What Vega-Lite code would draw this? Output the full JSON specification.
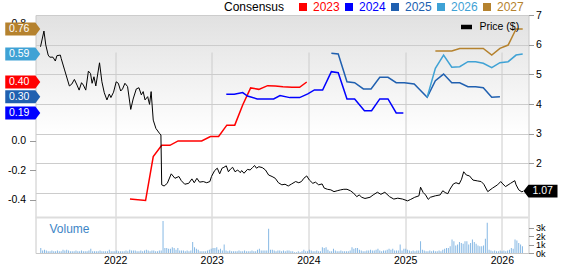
{
  "$schema": "https://vega.github.io/schema/vega-lite/v6.json",
  "autosize": {"type": "none"},
  "padding": {"left": 35.5, "top": 15, "right": 33.5, "bottom": 11},
  "width": 493,
  "height": 238,
  "background": "white",
  "config": {
    "font": "Liberation Sans",
    "axis": {"labelFont": "Liberation Sans", "labelFontSize": 10.5, "labelColor": "#000", "tickColor": "#999", "domain": false, "gridColor": "#cccccc", "labelFlush": false, "labelOverlap": false},
    "legend": {"labelFont": "Liberation Sans", "titleFont": "Liberation Sans"}
  },
  "view": {
    "fill": {"gradient": "linear", "x1": 0, "y1": 0, "x2": 0, "y2": 1, "stops": [{"offset": 0, "color": "#e1e1e1"}, {"offset": 0.5, "color": "#ffffff"}, {"offset": 1, "color": "#ffffff"}]},
    "stroke": "#c8c8c8"
  },
  "datasets": {
    "eps": [
      {"year": "2023", "d": "2022-02-26", "v": -0.395},
      {"year": "2023", "d": "2022-04-26", "v": -0.405},
      {"year": "2023", "d": "2022-05-25", "v": -0.106},
      {"year": "2023", "d": "2022-06-26", "v": -0.03},
      {"year": "2023", "d": "2022-07-27", "v": -0.03},
      {"year": "2023", "d": "2022-08-27", "v": 0.0},
      {"year": "2023", "d": "2022-11-24", "v": 0.0},
      {"year": "2023", "d": "2022-12-27", "v": 0.03},
      {"year": "2023", "d": "2023-01-27", "v": 0.03},
      {"year": "2023", "d": "2023-02-27", "v": 0.107},
      {"year": "2023", "d": "2023-03-29", "v": 0.107},
      {"year": "2023", "d": "2023-04-28", "v": 0.244},
      {"year": "2023", "d": "2023-05-28", "v": 0.36},
      {"year": "2023", "d": "2023-06-28", "v": 0.35},
      {"year": "2023", "d": "2023-07-31", "v": 0.375},
      {"year": "2023", "d": "2023-08-29", "v": 0.373},
      {"year": "2023", "d": "2023-09-27", "v": 0.368},
      {"year": "2023", "d": "2023-10-31", "v": 0.364},
      {"year": "2023", "d": "2023-11-29", "v": 0.364},
      {"year": "2023", "d": "2023-12-26", "v": 0.40},
      {"year": "2024", "d": "2023-02-25", "v": 0.317},
      {"year": "2024", "d": "2023-03-27", "v": 0.317},
      {"year": "2024", "d": "2023-04-28", "v": 0.328},
      {"year": "2024", "d": "2023-05-16", "v": 0.305},
      {"year": "2024", "d": "2023-06-22", "v": 0.285},
      {"year": "2024", "d": "2023-08-23", "v": 0.285},
      {"year": "2024", "d": "2023-09-16", "v": 0.308},
      {"year": "2024", "d": "2023-10-23", "v": 0.294},
      {"year": "2024", "d": "2023-11-29", "v": 0.294},
      {"year": "2024", "d": "2023-12-30", "v": 0.319},
      {"year": "2024", "d": "2024-01-24", "v": 0.346},
      {"year": "2024", "d": "2024-02-24", "v": 0.346},
      {"year": "2024", "d": "2024-03-28", "v": 0.47},
      {"year": "2024", "d": "2024-04-23", "v": 0.463},
      {"year": "2024", "d": "2024-05-26", "v": 0.285},
      {"year": "2024", "d": "2024-06-24", "v": 0.285},
      {"year": "2024", "d": "2024-07-31", "v": 0.205},
      {"year": "2024", "d": "2024-08-27", "v": 0.205},
      {"year": "2024", "d": "2024-09-27", "v": 0.285},
      {"year": "2024", "d": "2024-10-28", "v": 0.285},
      {"year": "2024", "d": "2024-11-28", "v": 0.19},
      {"year": "2024", "d": "2024-12-25", "v": 0.19},
      {"year": "2025", "d": "2024-03-28", "v": 0.595},
      {"year": "2025", "d": "2024-04-23", "v": 0.59},
      {"year": "2025", "d": "2024-05-26", "v": 0.402},
      {"year": "2025", "d": "2024-06-24", "v": 0.395},
      {"year": "2025", "d": "2024-07-27", "v": 0.353},
      {"year": "2025", "d": "2024-08-25", "v": 0.353},
      {"year": "2025", "d": "2024-09-27", "v": 0.432},
      {"year": "2025", "d": "2024-10-28", "v": 0.432},
      {"year": "2025", "d": "2024-11-28", "v": 0.395},
      {"year": "2025", "d": "2024-12-29", "v": 0.395},
      {"year": "2025", "d": "2025-02-04", "v": 0.386},
      {"year": "2025", "d": "2025-03-25", "v": 0.296},
      {"year": "2025", "d": "2025-04-25", "v": 0.409},
      {"year": "2025", "d": "2025-05-26", "v": 0.454},
      {"year": "2025", "d": "2025-06-26", "v": 0.395},
      {"year": "2025", "d": "2025-07-26", "v": 0.395},
      {"year": "2025", "d": "2025-08-26", "v": 0.368},
      {"year": "2025", "d": "2025-09-24", "v": 0.368},
      {"year": "2025", "d": "2025-10-23", "v": 0.361},
      {"year": "2025", "d": "2025-11-24", "v": 0.296},
      {"year": "2025", "d": "2025-12-25", "v": 0.30},
      {"year": "2026", "d": "2025-03-25", "v": 0.296},
      {"year": "2026", "d": "2025-04-25", "v": 0.493},
      {"year": "2026", "d": "2025-05-26", "v": 0.583},
      {"year": "2026", "d": "2025-06-26", "v": 0.50},
      {"year": "2026", "d": "2025-07-26", "v": 0.504},
      {"year": "2026", "d": "2025-08-26", "v": 0.538},
      {"year": "2026", "d": "2025-09-24", "v": 0.538},
      {"year": "2026", "d": "2025-10-23", "v": 0.527},
      {"year": "2026", "d": "2025-11-24", "v": 0.497},
      {"year": "2026", "d": "2025-12-25", "v": 0.531},
      {"year": "2026", "d": "2026-01-25", "v": 0.538},
      {"year": "2026", "d": "2026-02-24", "v": 0.583},
      {"year": "2026", "d": "2026-03-21", "v": 0.59},
      {"year": "2027", "d": "2025-04-25", "v": 0.61},
      {"year": "2027", "d": "2025-06-26", "v": 0.61},
      {"year": "2027", "d": "2025-07-26", "v": 0.628},
      {"year": "2027", "d": "2025-10-23", "v": 0.628},
      {"year": "2027", "d": "2025-11-24", "v": 0.583},
      {"year": "2027", "d": "2025-12-25", "v": 0.628},
      {"year": "2027", "d": "2026-01-25", "v": 0.651},
      {"year": "2027", "d": "2026-02-24", "v": 0.76},
      {"year": "2027", "d": "2026-03-21", "v": 0.76}
    ],
    "tags": [
      {"year": "2027", "v": 0.76, "label": "0.76"},
      {"year": "2026", "v": 0.59, "label": "0.59"},
      {"year": "2023", "v": 0.40, "label": "0.40"},
      {"year": "2025", "v": 0.30, "label": "0.30"},
      {"year": "2024", "v": 0.19, "label": "0.19"}
    ],
    "price": [
      {"d": "2021-03-25", "p": 5.93}, {"d": "2021-04-07", "p": 6.46}, {"d": "2021-04-14", "p": 5.99}, {"d": "2021-04-23", "p": 5.65},
      {"d": "2021-04-29", "p": 5.58}, {"d": "2021-05-11", "p": 5.58}, {"d": "2021-05-20", "p": 5.45}, {"d": "2021-05-26", "p": 5.63},
      {"d": "2021-06-08", "p": 5.65}, {"d": "2021-06-11", "p": 5.54}, {"d": "2021-06-24", "p": 5.15}, {"d": "2021-07-12", "p": 4.61},
      {"d": "2021-07-21", "p": 4.67}, {"d": "2021-07-31", "p": 4.83}, {"d": "2021-08-10", "p": 4.64}, {"d": "2021-08-18", "p": 4.47},
      {"d": "2021-08-27", "p": 4.72}, {"d": "2021-09-03", "p": 4.64}, {"d": "2021-09-12", "p": 4.47}, {"d": "2021-09-22", "p": 5.11},
      {"d": "2021-09-30", "p": 5.03}, {"d": "2021-10-06", "p": 4.70}, {"d": "2021-10-13", "p": 4.92}, {"d": "2021-10-20", "p": 4.61},
      {"d": "2021-11-03", "p": 5.39}, {"d": "2021-11-12", "p": 4.75}, {"d": "2021-11-21", "p": 4.38}, {"d": "2021-12-01", "p": 4.14},
      {"d": "2021-12-10", "p": 4.34}, {"d": "2021-12-16", "p": 4.22}, {"d": "2021-12-26", "p": 4.40}, {"d": "2022-01-05", "p": 4.75},
      {"d": "2022-01-13", "p": 4.70}, {"d": "2022-01-22", "p": 4.44}, {"d": "2022-01-29", "p": 4.51}, {"d": "2022-02-07", "p": 4.70},
      {"d": "2022-02-17", "p": 4.59}, {"d": "2022-03-01", "p": 3.82}, {"d": "2022-03-10", "p": 4.17}, {"d": "2022-03-22", "p": 4.51},
      {"d": "2022-04-01", "p": 4.55}, {"d": "2022-04-10", "p": 4.31}, {"d": "2022-04-17", "p": 4.42}, {"d": "2022-04-24", "p": 4.14},
      {"d": "2022-05-04", "p": 4.25}, {"d": "2022-05-11", "p": 3.99}, {"d": "2022-05-17", "p": 4.42}, {"d": "2022-05-25", "p": 3.46},
      {"d": "2022-06-04", "p": 3.18}, {"d": "2022-06-17", "p": 3.02}, {"d": "2022-06-23", "p": 2.96}, {"d": "2022-06-26", "p": 1.28},
      {"d": "2022-07-05", "p": 1.24}, {"d": "2022-07-17", "p": 1.33}, {"d": "2022-08-01", "p": 1.65}, {"d": "2022-08-15", "p": 1.50},
      {"d": "2022-08-30", "p": 1.56}, {"d": "2022-09-08", "p": 1.42}, {"d": "2022-09-21", "p": 1.30}, {"d": "2022-10-06", "p": 1.33},
      {"d": "2022-10-18", "p": 1.48}, {"d": "2022-10-27", "p": 1.35}, {"d": "2022-11-06", "p": 1.50}, {"d": "2022-11-16", "p": 1.37},
      {"d": "2022-11-30", "p": 1.39}, {"d": "2022-12-13", "p": 1.35}, {"d": "2022-12-25", "p": 1.39}, {"d": "2022-12-31", "p": 1.56},
      {"d": "2023-01-12", "p": 1.76}, {"d": "2023-01-22", "p": 1.84}, {"d": "2023-01-31", "p": 1.65}, {"d": "2023-02-09", "p": 1.84},
      {"d": "2023-02-16", "p": 1.87}, {"d": "2023-02-25", "p": 1.92}, {"d": "2023-03-05", "p": 1.72}, {"d": "2023-03-13", "p": 1.81},
      {"d": "2023-03-21", "p": 1.87}, {"d": "2023-03-30", "p": 1.72}, {"d": "2023-04-09", "p": 1.78}, {"d": "2023-04-19", "p": 1.69},
      {"d": "2023-04-24", "p": 1.76}, {"d": "2023-05-03", "p": 1.67}, {"d": "2023-05-16", "p": 1.80}, {"d": "2023-05-26", "p": 1.78},
      {"d": "2023-06-04", "p": 1.86}, {"d": "2023-06-12", "p": 1.93}, {"d": "2023-06-19", "p": 1.84}, {"d": "2023-06-28", "p": 1.89},
      {"d": "2023-07-11", "p": 1.86}, {"d": "2023-07-23", "p": 1.78}, {"d": "2023-08-04", "p": 1.61}, {"d": "2023-08-17", "p": 1.56},
      {"d": "2023-08-29", "p": 1.50}, {"d": "2023-09-10", "p": 1.35}, {"d": "2023-09-23", "p": 1.28}, {"d": "2023-10-05", "p": 1.30},
      {"d": "2023-10-17", "p": 1.24}, {"d": "2023-10-30", "p": 1.31}, {"d": "2023-11-14", "p": 1.39}, {"d": "2023-11-26", "p": 1.35},
      {"d": "2023-12-06", "p": 1.39}, {"d": "2023-12-15", "p": 1.50}, {"d": "2023-12-26", "p": 1.58}, {"d": "2024-01-05", "p": 1.44},
      {"d": "2024-01-18", "p": 1.33}, {"d": "2024-01-28", "p": 1.37}, {"d": "2024-02-09", "p": 1.28}, {"d": "2024-02-22", "p": 1.31},
      {"d": "2024-03-01", "p": 1.17}, {"d": "2024-03-13", "p": 1.13}, {"d": "2024-03-26", "p": 1.11}, {"d": "2024-04-07", "p": 1.05},
      {"d": "2024-04-19", "p": 1.08}, {"d": "2024-05-02", "p": 1.11}, {"d": "2024-05-14", "p": 1.13}, {"d": "2024-05-26", "p": 1.13},
      {"d": "2024-06-08", "p": 1.08}, {"d": "2024-06-20", "p": 1.00}, {"d": "2024-07-02", "p": 0.88}, {"d": "2024-07-11", "p": 0.94},
      {"d": "2024-07-21", "p": 0.86}, {"d": "2024-08-02", "p": 0.82}, {"d": "2024-08-21", "p": 0.86}, {"d": "2024-09-02", "p": 0.94},
      {"d": "2024-09-18", "p": 1.03}, {"d": "2024-10-01", "p": 0.96}, {"d": "2024-10-16", "p": 1.03}, {"d": "2024-11-03", "p": 0.88},
      {"d": "2024-11-19", "p": 0.80}, {"d": "2024-12-04", "p": 0.83}, {"d": "2024-12-22", "p": 0.80}, {"d": "2025-01-10", "p": 0.74},
      {"d": "2025-01-22", "p": 0.79}, {"d": "2025-02-06", "p": 0.86}, {"d": "2025-02-22", "p": 0.91}, {"d": "2025-02-28", "p": 1.20},
      {"d": "2025-03-10", "p": 1.02}, {"d": "2025-03-19", "p": 0.94}, {"d": "2025-03-29", "p": 0.79}, {"d": "2025-04-06", "p": 0.86},
      {"d": "2025-04-25", "p": 0.91}, {"d": "2025-05-13", "p": 0.94}, {"d": "2025-05-23", "p": 1.08}, {"d": "2025-06-01", "p": 1.02},
      {"d": "2025-06-11", "p": 0.98}, {"d": "2025-06-19", "p": 1.13}, {"d": "2025-07-02", "p": 1.31}, {"d": "2025-07-12", "p": 1.35},
      {"d": "2025-07-24", "p": 1.31}, {"d": "2025-08-02", "p": 1.47}, {"d": "2025-08-10", "p": 1.72}, {"d": "2025-08-20", "p": 1.61},
      {"d": "2025-09-01", "p": 1.58}, {"d": "2025-09-14", "p": 1.44}, {"d": "2025-10-02", "p": 1.41}, {"d": "2025-10-15", "p": 1.39},
      {"d": "2025-10-25", "p": 1.30}, {"d": "2025-11-09", "p": 1.05}, {"d": "2025-11-27", "p": 1.17}, {"d": "2025-12-16", "p": 1.28},
      {"d": "2025-12-28", "p": 1.39}, {"d": "2026-01-05", "p": 1.31}, {"d": "2026-01-15", "p": 1.22}, {"d": "2026-02-03", "p": 1.33},
      {"d": "2026-02-19", "p": 1.42}, {"d": "2026-02-24", "p": 1.28}, {"d": "2026-03-06", "p": 1.11}, {"d": "2026-03-18", "p": 1.04},
      {"d": "2026-03-23", "p": 1.07}
    ],
    "vol": [
      {"d": "2021-03-26", "v": 600}, {"d": "2021-04-02", "v": 300}, {"d": "2021-04-09", "v": 400}, {"d": "2021-04-16", "v": 300},
      {"d": "2021-04-23", "v": 200}, {"d": "2021-04-30", "v": 200}, {"d": "2021-05-07", "v": 300}, {"d": "2021-05-14", "v": 200},
      {"d": "2021-05-21", "v": 200}, {"d": "2021-05-28", "v": 300}, {"d": "2021-06-04", "v": 200}, {"d": "2021-06-11", "v": 200},
      {"d": "2021-06-18", "v": 400}, {"d": "2021-06-25", "v": 300}, {"d": "2021-07-02", "v": 400}, {"d": "2021-07-09", "v": 300},
      {"d": "2021-07-16", "v": 200}, {"d": "2021-07-23", "v": 200}, {"d": "2021-07-30", "v": 200}, {"d": "2021-08-06", "v": 300},
      {"d": "2021-08-13", "v": 200}, {"d": "2021-08-20", "v": 200}, {"d": "2021-08-27", "v": 300}, {"d": "2021-09-03", "v": 200},
      {"d": "2021-09-10", "v": 200}, {"d": "2021-09-17", "v": 200}, {"d": "2021-09-24", "v": 300}, {"d": "2021-10-01", "v": 500},
      {"d": "2021-10-08", "v": 200}, {"d": "2021-10-15", "v": 200}, {"d": "2021-10-22", "v": 200}, {"d": "2021-10-29", "v": 200},
      {"d": "2021-11-05", "v": 300}, {"d": "2021-11-12", "v": 200}, {"d": "2021-11-19", "v": 200}, {"d": "2021-11-26", "v": 200},
      {"d": "2021-12-03", "v": 200}, {"d": "2021-12-10", "v": 400}, {"d": "2021-12-17", "v": 200}, {"d": "2021-12-24", "v": 200},
      {"d": "2021-12-31", "v": 200}, {"d": "2022-01-07", "v": 300}, {"d": "2022-01-14", "v": 200}, {"d": "2022-01-21", "v": 200},
      {"d": "2022-01-28", "v": 200}, {"d": "2022-02-04", "v": 200}, {"d": "2022-02-11", "v": 300}, {"d": "2022-02-18", "v": 200},
      {"d": "2022-02-25", "v": 400}, {"d": "2022-03-04", "v": 300}, {"d": "2022-03-11", "v": 300}, {"d": "2022-03-18", "v": 300},
      {"d": "2022-03-25", "v": 200}, {"d": "2022-04-01", "v": 200}, {"d": "2022-04-08", "v": 300}, {"d": "2022-04-15", "v": 200},
      {"d": "2022-04-22", "v": 300}, {"d": "2022-04-29", "v": 400}, {"d": "2022-05-06", "v": 300}, {"d": "2022-05-13", "v": 200},
      {"d": "2022-05-20", "v": 300}, {"d": "2022-05-27", "v": 300}, {"d": "2022-06-03", "v": 200}, {"d": "2022-06-10", "v": 200},
      {"d": "2022-06-17", "v": 300}, {"d": "2022-06-24", "v": 300}, {"d": "2022-07-01", "v": 3800}, {"d": "2022-07-08", "v": 600},
      {"d": "2022-07-15", "v": 600}, {"d": "2022-07-22", "v": 500}, {"d": "2022-07-29", "v": 500}, {"d": "2022-08-05", "v": 700},
      {"d": "2022-08-12", "v": 600}, {"d": "2022-08-19", "v": 400}, {"d": "2022-08-26", "v": 600}, {"d": "2022-09-02", "v": 300},
      {"d": "2022-09-09", "v": 300}, {"d": "2022-09-16", "v": 300}, {"d": "2022-09-23", "v": 200}, {"d": "2022-09-30", "v": 300},
      {"d": "2022-10-07", "v": 200}, {"d": "2022-10-14", "v": 300}, {"d": "2022-10-21", "v": 1300}, {"d": "2022-10-28", "v": 700},
      {"d": "2022-11-04", "v": 500}, {"d": "2022-11-11", "v": 400}, {"d": "2022-11-18", "v": 200}, {"d": "2022-11-25", "v": 200},
      {"d": "2022-12-02", "v": 200}, {"d": "2022-12-09", "v": 200}, {"d": "2022-12-16", "v": 300}, {"d": "2022-12-23", "v": 400},
      {"d": "2022-12-30", "v": 500}, {"d": "2023-01-06", "v": 600}, {"d": "2023-01-13", "v": 600}, {"d": "2023-01-20", "v": 700},
      {"d": "2023-01-27", "v": 400}, {"d": "2023-02-03", "v": 500}, {"d": "2023-02-10", "v": 300}, {"d": "2023-02-17", "v": 1000},
      {"d": "2023-02-24", "v": 300}, {"d": "2023-03-03", "v": 200}, {"d": "2023-03-10", "v": 300}, {"d": "2023-03-17", "v": 200},
      {"d": "2023-03-24", "v": 200}, {"d": "2023-03-31", "v": 200}, {"d": "2023-04-07", "v": 200}, {"d": "2023-04-14", "v": 300},
      {"d": "2023-04-21", "v": 200}, {"d": "2023-04-28", "v": 200}, {"d": "2023-05-05", "v": 300}, {"d": "2023-05-12", "v": 200},
      {"d": "2023-05-19", "v": 200}, {"d": "2023-05-26", "v": 200}, {"d": "2023-06-02", "v": 300}, {"d": "2023-06-09", "v": 200},
      {"d": "2023-06-16", "v": 200}, {"d": "2023-06-23", "v": 400}, {"d": "2023-06-30", "v": 500}, {"d": "2023-07-07", "v": 300},
      {"d": "2023-07-14", "v": 300}, {"d": "2023-07-21", "v": 300}, {"d": "2023-07-28", "v": 300}, {"d": "2023-08-04", "v": 2900},
      {"d": "2023-08-11", "v": 400}, {"d": "2023-08-18", "v": 400}, {"d": "2023-08-25", "v": 300}, {"d": "2023-09-01", "v": 200},
      {"d": "2023-09-08", "v": 300}, {"d": "2023-09-15", "v": 300}, {"d": "2023-09-22", "v": 200}, {"d": "2023-09-29", "v": 300},
      {"d": "2023-10-06", "v": 200}, {"d": "2023-10-13", "v": 300}, {"d": "2023-10-20", "v": 300}, {"d": "2023-10-27", "v": 200},
      {"d": "2023-11-03", "v": 200}, {"d": "2023-11-10", "v": 100}, {"d": "2023-11-17", "v": 100}, {"d": "2023-11-24", "v": 200},
      {"d": "2023-12-01", "v": 100}, {"d": "2023-12-08", "v": 200}, {"d": "2023-12-15", "v": 400}, {"d": "2023-12-22", "v": 200},
      {"d": "2023-12-29", "v": 200}, {"d": "2024-01-05", "v": 400}, {"d": "2024-01-12", "v": 300}, {"d": "2024-01-19", "v": 200},
      {"d": "2024-01-26", "v": 200}, {"d": "2024-02-02", "v": 300}, {"d": "2024-02-09", "v": 200}, {"d": "2024-02-16", "v": 200},
      {"d": "2024-02-23", "v": 700}, {"d": "2024-03-01", "v": 600}, {"d": "2024-03-08", "v": 700}, {"d": "2024-03-15", "v": 400},
      {"d": "2024-03-22", "v": 200}, {"d": "2024-03-29", "v": 200}, {"d": "2024-04-05", "v": 500}, {"d": "2024-04-12", "v": 300},
      {"d": "2024-04-19", "v": 200}, {"d": "2024-04-26", "v": 200}, {"d": "2024-05-03", "v": 300}, {"d": "2024-05-10", "v": 200},
      {"d": "2024-05-17", "v": 200}, {"d": "2024-05-24", "v": 200}, {"d": "2024-05-31", "v": 200}, {"d": "2024-06-07", "v": 300},
      {"d": "2024-06-14", "v": 700}, {"d": "2024-06-21", "v": 500}, {"d": "2024-06-28", "v": 600}, {"d": "2024-07-05", "v": 600},
      {"d": "2024-07-12", "v": 400}, {"d": "2024-07-19", "v": 300}, {"d": "2024-07-26", "v": 200}, {"d": "2024-08-02", "v": 200},
      {"d": "2024-08-09", "v": 300}, {"d": "2024-08-16", "v": 300}, {"d": "2024-08-23", "v": 400}, {"d": "2024-08-30", "v": 300},
      {"d": "2024-09-06", "v": 300}, {"d": "2024-09-13", "v": 400}, {"d": "2024-09-20", "v": 500}, {"d": "2024-09-27", "v": 300},
      {"d": "2024-10-04", "v": 200}, {"d": "2024-10-11", "v": 300}, {"d": "2024-10-18", "v": 300}, {"d": "2024-10-25", "v": 400},
      {"d": "2024-11-01", "v": 500}, {"d": "2024-11-08", "v": 400}, {"d": "2024-11-15", "v": 500}, {"d": "2024-11-22", "v": 300},
      {"d": "2024-11-29", "v": 300}, {"d": "2024-12-06", "v": 300}, {"d": "2024-12-13", "v": 1000}, {"d": "2024-12-20", "v": 300},
      {"d": "2024-12-27", "v": 500}, {"d": "2025-01-03", "v": 500}, {"d": "2025-01-10", "v": 400}, {"d": "2025-01-17", "v": 300},
      {"d": "2025-01-24", "v": 200}, {"d": "2025-01-31", "v": 300}, {"d": "2025-02-07", "v": 200}, {"d": "2025-02-14", "v": 300},
      {"d": "2025-02-21", "v": 300}, {"d": "2025-02-28", "v": 1400}, {"d": "2025-03-07", "v": 400}, {"d": "2025-03-14", "v": 300},
      {"d": "2025-03-21", "v": 200}, {"d": "2025-03-28", "v": 200}, {"d": "2025-04-04", "v": 300}, {"d": "2025-04-11", "v": 200},
      {"d": "2025-04-18", "v": 300}, {"d": "2025-04-25", "v": 200}, {"d": "2025-05-02", "v": 200}, {"d": "2025-05-09", "v": 300},
      {"d": "2025-05-16", "v": 200}, {"d": "2025-05-23", "v": 400}, {"d": "2025-05-30", "v": 500}, {"d": "2025-06-06", "v": 600},
      {"d": "2025-06-13", "v": 600}, {"d": "2025-06-20", "v": 800}, {"d": "2025-06-27", "v": 1600}, {"d": "2025-07-04", "v": 1400},
      {"d": "2025-07-11", "v": 900}, {"d": "2025-07-18", "v": 1000}, {"d": "2025-07-25", "v": 1300}, {"d": "2025-08-01", "v": 1200},
      {"d": "2025-08-08", "v": 1100}, {"d": "2025-08-15", "v": 1400}, {"d": "2025-08-22", "v": 1400}, {"d": "2025-08-29", "v": 1000},
      {"d": "2025-09-05", "v": 1200}, {"d": "2025-09-12", "v": 1600}, {"d": "2025-09-19", "v": 1300}, {"d": "2025-09-26", "v": 1100},
      {"d": "2025-10-03", "v": 900}, {"d": "2025-10-10", "v": 800}, {"d": "2025-10-17", "v": 800}, {"d": "2025-10-24", "v": 900},
      {"d": "2025-10-31", "v": 1700}, {"d": "2025-11-07", "v": 3600}, {"d": "2025-11-14", "v": 400}, {"d": "2025-11-21", "v": 300},
      {"d": "2025-11-28", "v": 200}, {"d": "2025-12-05", "v": 300}, {"d": "2025-12-12", "v": 200}, {"d": "2025-12-19", "v": 200},
      {"d": "2025-12-26", "v": 300}, {"d": "2026-01-02", "v": 200}, {"d": "2026-01-09", "v": 300}, {"d": "2026-01-16", "v": 200},
      {"d": "2026-01-23", "v": 300}, {"d": "2026-01-30", "v": 400}, {"d": "2026-02-06", "v": 600}, {"d": "2026-02-13", "v": 500},
      {"d": "2026-02-20", "v": 1600}, {"d": "2026-02-27", "v": 1500}, {"d": "2026-03-06", "v": 1200}, {"d": "2026-03-13", "v": 1000},
      {"d": "2026-03-20", "v": 800}
    ]
  },
  "layer": [
    {
      "layer": [
        {
          "data": {"name": "eps"},
          "mark": {"type": "line", "strokeWidth": 1.5},
          "encoding": {
            "x": {"field": "d", "type": "temporal",
              "scale": {"type": "utc", "domain": [{"year": 2021, "month": 3, "date": 25, "utc": true}, {"year": 2026, "month": 3, "date": 24, "utc": true}]},
              "axis": {"orient": "bottom", "title": null, "format": "%Y", "grid": true, "gridColor": "#cccccc", "ticks": false, "domain": false, "labelPadding": 2, "labelFontSize": 10.5, "labelOverlap": false, "tickCount": 20,
                "values": [{"year": 2022, "month": 1, "date": 1, "utc": true}, {"year": 2023, "month": 1, "date": 1, "utc": true}, {"year": 2024, "month": 1, "date": 1, "utc": true}, {"year": 2025, "month": 1, "date": 1, "utc": true}, {"year": 2026, "month": 1, "date": 1, "utc": true}]}},
            "y": {"field": "v", "type": "quantitative",
              "scale": {"domain": [-0.51, 0.855], "range": [201, 0], "nice": false, "zero": false},
              "axis": {"orient": "left", "title": null, "grid": false, "domain": false, "tickSize": 6, "tickColor": "#999", "labelPadding": 4, "labelOverlap": false, "labelBound": false, "tickCount": 20,
                "values": [-0.4, -0.2, 0, 0.2, 0.4, 0.6, 0.8],
                "labelExpr": "datum.value < -0.01 ? '-' + format(-datum.value, '.1f') : (datum.value < 0.1 || datum.value > 0.7 ? format(datum.value, '.1f') : '')"}},
            "color": {"field": "year", "type": "nominal",
              "scale": {"domain": ["2023", "2024", "2025", "2026", "2027"], "range": ["#ff0000", "#0000ff", "#2060b0", "#3fa2d5", "#b5822e"]},
              "legend": {"orient": "none", "legendX": 188.5, "legendY": -14, "direction": "horizontal", "padding": 0,
                "title": "Consensus", "titleOrient": "left", "titleFontSize": 12, "titleFontWeight": "normal", "titleColor": "#000", "titlePadding": 12,
                "symbolType": "square", "symbolSize": 64, "symbolStrokeWidth": 0, "labelFontSize": 12, "labelOffset": 4, "columnPadding": 3,
                "encode": {"labels": {"update": {"fill": {"scale": "color", "field": "value"}}},
                           "symbols": {"update": {"fill": {"scale": "color", "field": "value"}, "opacity": {"value": 1}}}}}}
          }
        },
        {
          "data": {"name": "tags"},
          "mark": {"type": "point", "shape": "M-1,-0.371L0.72,-0.371L1,0L0.72,0.371L-1,0.371Z", "size": 1225, "filled": true, "opacity": 1, "strokeWidth": 0, "xOffset": -17.75},
          "encoding": {
            "x": {"datum": {"year": 2021, "month": 3, "date": 25, "utc": true}, "type": "temporal", "scale": {"type": "utc"}},
            "y": {"field": "v", "type": "quantitative"},
            "color": {"field": "year", "type": "nominal"}
          }
        },
        {
          "data": {"name": "tags"},
          "mark": {"type": "text", "align": "left", "baseline": "middle", "color": "#ffffff", "fontSize": 10.5, "xOffset": -31.5},
          "encoding": {
            "x": {"datum": {"year": 2021, "month": 3, "date": 25, "utc": true}, "type": "temporal", "scale": {"type": "utc"}},
            "y": {"field": "v", "type": "quantitative"},
            "text": {"field": "label"}
          }
        }
      ]
    },
    {
      "layer": [
        {
          "data": {"name": "price"},
          "mark": {"type": "line", "strokeWidth": 1},
          "encoding": {
            "x": {"field": "d", "type": "temporal", "scale": {"type": "utc"}},
            "y": {"field": "p", "type": "quantitative",
              "scale": {"domain": [0.23, 7], "range": [201, 0], "nice": false, "zero": false},
              "axis": {"orient": "right", "title": null, "grid": true, "gridColor": "#cccccc", "domain": false, "tickSize": 5, "tickColor": "#999", "labelPadding": 2, "labelOverlap": false, "labelBound": false, "tickCount": 20, "values": [1, 2, 3, 4, 5, 6, 7],
                "labelExpr": "datum.value > 1.5 ? format(datum.value, 'd') : ''"}},
            "stroke": {"datum": "Price ($)", "type": "nominal", "scale": {"range": ["#000000"]},
              "legend": {"orient": "none", "legendX": 423, "legendY": 4, "title": null, "padding": 0, "symbolType": "stroke", "symbolSize": 121, "symbolStrokeWidth": 4.5, "labelFontSize": 10.5, "labelOffset": 5, "labelColor": "#000"}}
          }
        },
        {
          "data": {"values": [{"p": 1.07, "label": "1.07"}]},
          "mark": {"type": "point", "shape": "M-1,0L-0.706,-0.376L1,-0.376L1,0.376L-0.706,0.376Z", "size": 1156, "filled": true, "opacity": 1, "color": "#000000", "strokeWidth": 0, "xOffset": 17},
          "encoding": {
            "x": {"datum": {"year": 2026, "month": 3, "date": 24, "utc": true}, "type": "temporal", "scale": {"type": "utc"}},
            "y": {"field": "p", "type": "quantitative"}
          }
        },
        {
          "data": {"values": [{"p": 1.07, "label": "1.07"}]},
          "mark": {"type": "text", "align": "left", "baseline": "middle", "color": "#ffffff", "fontSize": 10.5, "xOffset": 9},
          "encoding": {
            "x": {"datum": {"year": 2026, "month": 3, "date": 24, "utc": true}, "type": "temporal", "scale": {"type": "utc"}},
            "y": {"field": "p", "type": "quantitative"},
            "text": {"field": "label"}
          }
        }
      ]
    },
    {
      "layer": [
        {
          "data": {"values": [{}]},
          "mark": {"type": "rule", "color": "#dddddd", "strokeWidth": 2},
          "encoding": {"y": {"datum": 4230, "type": "quantitative"}}
        },
        {
          "data": {"name": "vol"},
          "mark": {"type": "bar", "color": "#86b8e4", "width": 1},
          "encoding": {
            "x": {"field": "d", "type": "temporal", "scale": {"type": "utc"}},
            "y": {"field": "v", "type": "quantitative",
              "scale": {"domain": [0, 4230], "range": [238, 202.5], "nice": false},
              "axis": {"orient": "right", "title": null, "grid": false, "domain": false, "tickSize": 5, "tickColor": "#999", "labelPadding": 2, "labelOverlap": false, "labelBound": false, "tickCount": 20, "labelFontSize": 9, "values": [0, 1000, 2000, 3000], "format": "~s"}}
          }
        },
        {
          "data": {"values": [{}]},
          "mark": {"type": "text", "align": "left", "baseline": "middle", "color": "#3d85c6", "fontSize": 12},
          "encoding": {
            "x": {"datum": {"year": 2021, "month": 4, "date": 28, "utc": true}, "type": "temporal", "scale": {"type": "utc"}},
            "y": {"datum": 2900, "type": "quantitative"},
            "text": {"value": "Volume"}
          }
        }
      ]
    }
  ],
  "resolve": {"scale": {"y": "independent"}, "axis": {"y": "independent"}}
}
